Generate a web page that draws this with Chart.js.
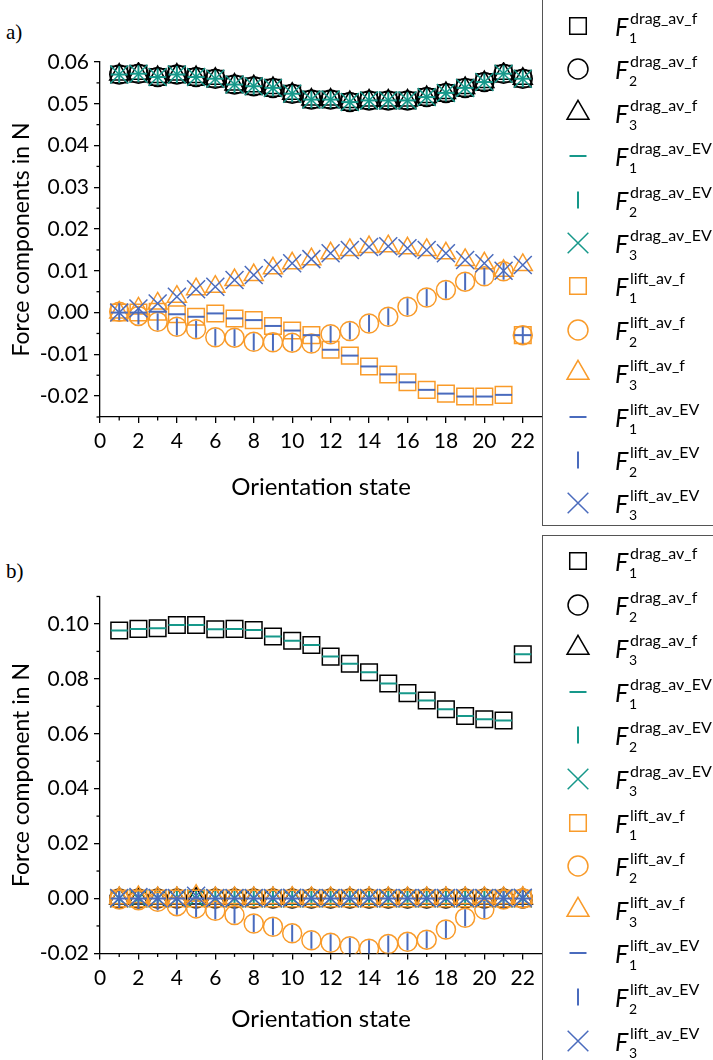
<!DOCTYPE html>
<html>
<head>
<meta charset="utf-8">
<script src="https://cdn.jsdelivr.net/npm/chart.js@4/dist/chart.umd.min.js"></script>
<style>
  html, body { margin: 0; padding: 0; background: #fff; }
  body { width: 713px; height: 1060px; position: relative; overflow: hidden; font-family: Lato, sans-serif; color: #000; }
  canvas.plot { position: absolute; left: 0; }
  .panel { position: absolute; left: 6px; font-family: 'Liberation Serif', serif; font-size: 21px; line-height: 1; }
  .legend { position: absolute; left: 542px; width: 190px; border: 1px solid #555; box-sizing: border-box; }
  .row { position: absolute; left: 0; width: 170px; height: 0; }
  .row canvas { position: absolute; left: 20px; top: -15px; }
  .row .f { position: absolute; left: 72px; top: -12px; font-size: 25px; font-style: italic; line-height: 1; }
  .row .sup { position: absolute; left: 87px; top: -16px; font-size: 16px; line-height: 1; white-space: nowrap; }
  .row .sub { position: absolute; left: 86px; top: 5px; font-size: 14px; line-height: 1; }
</style>
</head>
<body>
<div class="panel" style="top:22px">a)</div>
<div class="panel" style="top:561px">b)</div>
<canvas id="chartA" class="plot" width="560" height="525" style="top:0"></canvas>
<canvas id="chartB" class="plot" width="560" height="530" style="top:530px"></canvas>
<div id="legendA" class="legend" style="top:-2px; height:528px"></div>
<div id="legendB" class="legend" style="top:535px; height:540px"></div>
<script>
// orientation states
const states = [1, 2, 3, 4, 5, 6, 7, 8, 9, 10, 11, 12, 13, 14, 15, 16, 17, 18, 19, 20, 21, 22];

// a) drag components (f and EV coincide)
const dragA = [0.0570, 0.0572, 0.0564, 0.0570, 0.0564, 0.0560, 0.0546, 0.0542, 0.0538, 0.0524, 0.0510,
               0.0510, 0.0504, 0.0508, 0.0508, 0.0508, 0.0516, 0.0526, 0.0538, 0.0552, 0.0572, 0.0560];
// a) lift components
const liftA1 = [0.0000, 0.0000, 0.0002, -0.0004, -0.0010, -0.0002, -0.0014, -0.0018, -0.0032, -0.0043, -0.0054,
                -0.0089, -0.0103, -0.0129, -0.0148, -0.0167, -0.0185, -0.0194, -0.0201, -0.0201, -0.0197, -0.0054];
const liftA2 = [0.0002, -0.0008, -0.0022, -0.0034, -0.0040, -0.0059, -0.0060, -0.0070, -0.0071, -0.0072, -0.0074,
                -0.0052, -0.0044, -0.0026, -0.0010, 0.0014, 0.0036, 0.0054, 0.0074, 0.0087, 0.0099, -0.0054];
const liftA3 = [0.0000, 0.0010, 0.0022, 0.0038, 0.0056, 0.0062, 0.0078, 0.0090, 0.0106, 0.0118, 0.0128,
                0.0142, 0.0150, 0.0157, 0.0159, 0.0154, 0.0150, 0.0142, 0.0126, 0.0118, 0.0100, 0.0114];

// b) drag components
const dragB1 = [0.0976, 0.0982, 0.0984, 0.0996, 0.0996, 0.0981, 0.0982, 0.0978, 0.0954, 0.0939, 0.0923,
                0.0881, 0.0855, 0.0824, 0.0783, 0.0748, 0.0721, 0.0689, 0.0665, 0.0653, 0.0648, 0.0890];
const dragB2 = [0, 0, 0, 0, 0, 0, 0, 0, 0, 0, 0, 0, 0, 0, 0, 0, 0, 0, 0, 0, 0, 0];
const dragB3 = [0, 0, 0, 0, 0, 0, 0, 0, 0, 0, 0, 0, 0, 0, 0, 0, 0, 0, 0, 0, 0, 0];
// b) lift components
const liftB1 = [0, 0, 0, 0, 0, 0, 0, 0, 0, 0, 0, 0, 0, 0, 0, 0, 0, 0, 0, 0, 0, 0];
const liftB2 = [-0.0004, -0.0006, -0.0012, -0.0028, -0.0036, -0.0045, -0.0060, -0.0091, -0.0103, -0.0127, -0.0152,
                -0.0161, -0.0174, -0.0183, -0.0166, -0.0158, -0.0150, -0.0113, -0.0070, -0.0040, -0.0004, 0.0000];
const liftB3 = [0.0002, 0.0005, 0.0002, 0.0002, 0.0010, 0.0002, 0.0002, 0.0002, 0.0002, 0.0003, 0.0002,
                0.0002, 0.0002, 0.0002, 0.0002, 0.0002, 0.0002, 0.0002, 0.0002, 0.0002, 0.0002, 0.0003];

// ticks
const xTicks = [0, 2, 4, 6, 8, 10, 12, 14, 16, 18, 20, 22];
const xMinor = [1, 3, 5, 7, 9, 11, 13, 15, 17, 19, 21];
const yTicksA = [-0.02, -0.01, 0.00, 0.01, 0.02, 0.03, 0.04, 0.05, 0.06];
const yMinorA = [-0.025, -0.015, -0.005, 0.005, 0.015, 0.025, 0.035, 0.045, 0.055];
const yTicksB = [-0.02, 0.00, 0.02, 0.04, 0.06, 0.08, 0.10];
const yMinorB = [-0.01, 0.01, 0.03, 0.05, 0.07, 0.09, 0.11];

const BLACK = '#000000', TEAL = '#16988a', ORANGE = '#f99b2a', BLUE = '#4a6bbd';

// series names and their marker styles (legend order)
const series = [
  { sup: 'drag_av_f',  sub: '1', ps: 'rect',     r: 11.7, color: BLACK },
  { sup: 'drag_av_f',  sub: '2', ps: 'circle',   r: 9.5,  color: BLACK },
  { sup: 'drag_av_f',  sub: '3', ps: 'triangle', r: 11,   color: BLACK },
  { sup: 'drag_av_EV', sub: '1', ps: 'line',     r: 8.5,  color: TEAL },
  { sup: 'drag_av_EV', sub: '2', ps: 'line',     r: 8.5,  color: TEAL, rot: 90 },
  { sup: 'drag_av_EV', sub: '3', ps: 'crossRot', r: 12.7, color: TEAL },
  { sup: 'lift_av_f',  sub: '1', ps: 'rect',     r: 11.7, color: ORANGE },
  { sup: 'lift_av_f',  sub: '2', ps: 'circle',   r: 9.5,  color: ORANGE },
  { sup: 'lift_av_f',  sub: '3', ps: 'triangle', r: 11,   color: ORANGE },
  { sup: 'lift_av_EV', sub: '1', ps: 'line',     r: 8.5,  color: BLUE },
  { sup: 'lift_av_EV', sub: '2', ps: 'line',     r: 8.5,  color: BLUE, rot: 90 },
  { sup: 'lift_av_EV', sub: '3', ps: 'crossRot', r: 12.7, color: BLUE }
];

Chart.defaults.font.family = 'Lato, sans-serif';
Chart.defaults.font.size = 21;
Chart.defaults.color = '#000';

const minorTicks = {
  id: 'minorTicks',
  afterDraw(chart, args, opts) {
    const ctx = chart.ctx;
    const xs = chart.scales.x, ys = chart.scales.y;
    ctx.save();
    ctx.strokeStyle = '#000';
    ctx.lineWidth = 1.3;
    (opts.x || []).forEach(v => {
      const px = xs.getPixelForValue(v);
      ctx.beginPath(); ctx.moveTo(px, xs.top); ctx.lineTo(px, xs.top + 3.5); ctx.stroke();
    });
    (opts.y || []).forEach(v => {
      const py = ys.getPixelForValue(v);
      ctx.beginPath(); ctx.moveTo(ys.right, py); ctx.lineTo(ys.right - 3.5, py); ctx.stroke();
    });
    ctx.restore();
  }
};

function makeDatasets(values) {
  return series.map((s, i) => ({
    label: 'F' + s.sub + ' ' + s.sup,
    data: states.map((x, k) => ({ x: x, y: values[i][k] })),
    showLine: false,
    pointStyle: s.ps,
    pointRadius: s.r,
    pointHoverRadius: s.r,
    pointRotation: s.rot || 0,
    pointBorderColor: s.color,
    pointBackgroundColor: 'rgba(0,0,0,0)',
    borderColor: s.color,
    backgroundColor: 'rgba(0,0,0,0)',
    pointBorderWidth: s.ps === 'line' ? 2 : 1.5,
    order: 12 - i
  }));
}

function makeChart(id, values, yMin, yMax, yTicks, yMinor, yTitle, padTop, xHeight, xTitlePad) {
  return new Chart(document.getElementById(id), {
    type: 'scatter',
    data: { datasets: makeDatasets(values) },
    options: {
      responsive: false,
      animation: false,
      events: [],
      layout: { padding: { top: padTop, right: 18, left: 0, bottom: 0 } },
      plugins: {
        legend: { display: false },
        tooltip: { enabled: false },
        minorTicks: { x: xMinor, y: yMinor }
      },
      scales: {
        x: {
          type: 'linear', min: 0, max: 23,
          afterBuildTicks: s => { s.ticks = xTicks.map(v => ({ value: v })); },
          afterFit: s => { s.height = xHeight; },
          ticks: { callback: v => v.toFixed(0), padding: 6, autoSkip: false, maxRotation: 0 },
          grid: { drawOnChartArea: false, color: '#000', lineWidth: 1.3, tickLength: 6 },
          border: { color: '#000', width: 1.3 },
          title: { display: true, text: 'Orientation state', font: { size: 24 }, padding: { top: 0, bottom: xTitlePad } }
        },
        y: {
          type: 'linear', min: yMin, max: yMax,
          afterBuildTicks: s => { s.ticks = yTicks.map(v => ({ value: v })); },
          afterFit: s => { s.width = 100; },
          ticks: { callback: v => v.toFixed(2), padding: 5, autoSkip: false },
          grid: { drawOnChartArea: false, color: '#000', lineWidth: 1.3, tickLength: 6 },
          border: { color: '#000', width: 1.3 },
          title: { display: true, text: yTitle, font: { size: 23 }, padding: { top: 8, bottom: 0 } }
        }
      }
    },
    plugins: [minorTicks]
  });
}

makeChart('chartA',
  [dragA, dragA, dragA, dragA, dragA, dragA, liftA1, liftA2, liftA3, liftA1, liftA2, liftA3],
  -0.025, 0.06, yTicksA, yMinorA, 'Force components in N', 62, 108, 23);

makeChart('chartB',
  [dragB1, dragB2, dragB3, dragB1, dragB2, dragB3, liftB1, liftB2, liftB3, liftB1, liftB2, liftB3],
  -0.02, 0.11, yTicksB, yMinorB, 'Force component in N', 66.5, 106.6, 26);

// html legends
function drawSymbol(cv, s) {
  const ctx = cv.getContext('2d');
  ctx.strokeStyle = s.color;
  ctx.fillStyle = 'rgba(0,0,0,0)';
  ctx.lineWidth = s.ps === 'line' ? 2 : 1.5;
  const scale = s.ps === 'circle' ? 1.05 : (s.ps === 'triangle' ? 1.15 : (s.ps === 'crossRot' ? 1.15 : 1));
  Chart.helpers.drawPoint(ctx, {
    pointStyle: s.ps, radius: s.r * scale, rotation: s.rot || 0, borderWidth: ctx.lineWidth
  }, 15, 15);
}

function buildLegend(id, firstRow, rowStep, boxTop) {
  const box = document.getElementById(id);
  series.forEach((s, i) => {
    const row = document.createElement('div');
    row.className = 'row';
    row.style.top = (firstRow + i * rowStep - boxTop) + 'px';
    const cv = document.createElement('canvas');
    cv.width = 30; cv.height = 30;
    row.appendChild(cv);
    const f = document.createElement('span'); f.className = 'f'; f.textContent = 'F';
    const sup = document.createElement('span'); sup.className = 'sup'; sup.textContent = s.sup;
    const sub = document.createElement('span'); sub.className = 'sub'; sub.textContent = s.sub;
    row.appendChild(f); row.appendChild(sup); row.appendChild(sub);
    box.appendChild(row);
    drawSymbol(cv, s);
  });
}

buildLegend('legendA', 25, 43.4, -2);
buildLegend('legendB', 560, 43.6, 535);
</script>
</body>
</html>
